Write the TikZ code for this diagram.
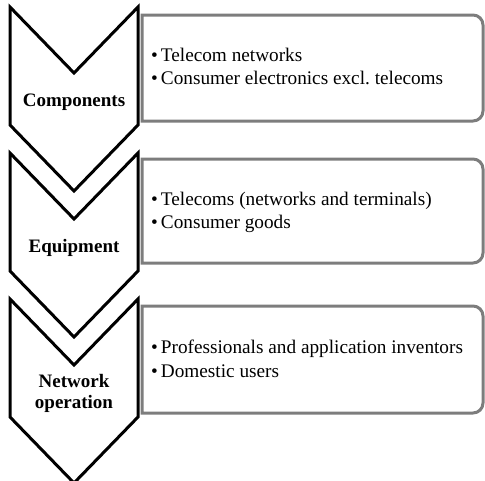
\documentclass[tikz,border=0pt]{standalone}
\usepackage{fontspec}
\setmainfont{Liberation Serif}
\definecolor{boxgray}{RGB}{125,125,125}
\begin{document}
\begin{tikzpicture}[x=1pt,y=-1pt,
  chev/.style={draw=black,line width=3pt,line join=miter,fill=white},
  boxline/.style={draw=boxgray,line width=3pt,fill=white},
  lab/.style={font=\fontsize{19}{21}\selectfont\bfseries,align=center,inner sep=0pt,anchor=base},
  item/.style={font=\fontsize{19.25}{24}\selectfont,inner sep=0pt,anchor=base west}]
\useasboundingbox (0,0) rectangle (485,480);
\clip (0,0) rectangle (485,480);
% boxes
\foreach \t/\b in {15/121,159/263,306/413}{
  \path[boxline] (142,\t) -- (473,\t) arc[start angle=-90,end angle=0,radius=10]
    -- (483,\b-10) arc[start angle=0,end angle=90,radius=10] -- (142,\b) -- cycle;
}
% chevrons
\foreach \o in {0,146,292}{
  \path[chev] (10,7+\o) -- (74,73+\o) -- (138,7+\o) -- (138,125+\o) -- (74,191+\o) -- (10,125+\o) -- cycle;
}
% labels
\node[lab] (l1) at (74,106) {Components};
\node[lab] (l2) at (74,252) {Equipment};
\node[lab,anchor=base] (l3a) at (74,387) {Network};
\node[lab,anchor=base] (l3b) at (74,408) {operation};
% items
\node[item] (a1) at (151,61) {•\hspace{3pt}Telecom networks};
\node[item] (a2) at (151,84) {•\hspace{3pt}Consumer electronics excl.\ telecoms};
\node[item] (b1) at (151,205) {•\hspace{3pt}Telecoms (networks and terminals)};
\node[item] (b2) at (151,228) {•\hspace{3pt}Consumer goods};
\node[item] (c1) at (151,353) {•\hspace{3pt}Professionals and application inventors};
\node[item] (c2) at (151,377) {•\hspace{3pt}Domestic users};
\end{tikzpicture}
\end{document}
